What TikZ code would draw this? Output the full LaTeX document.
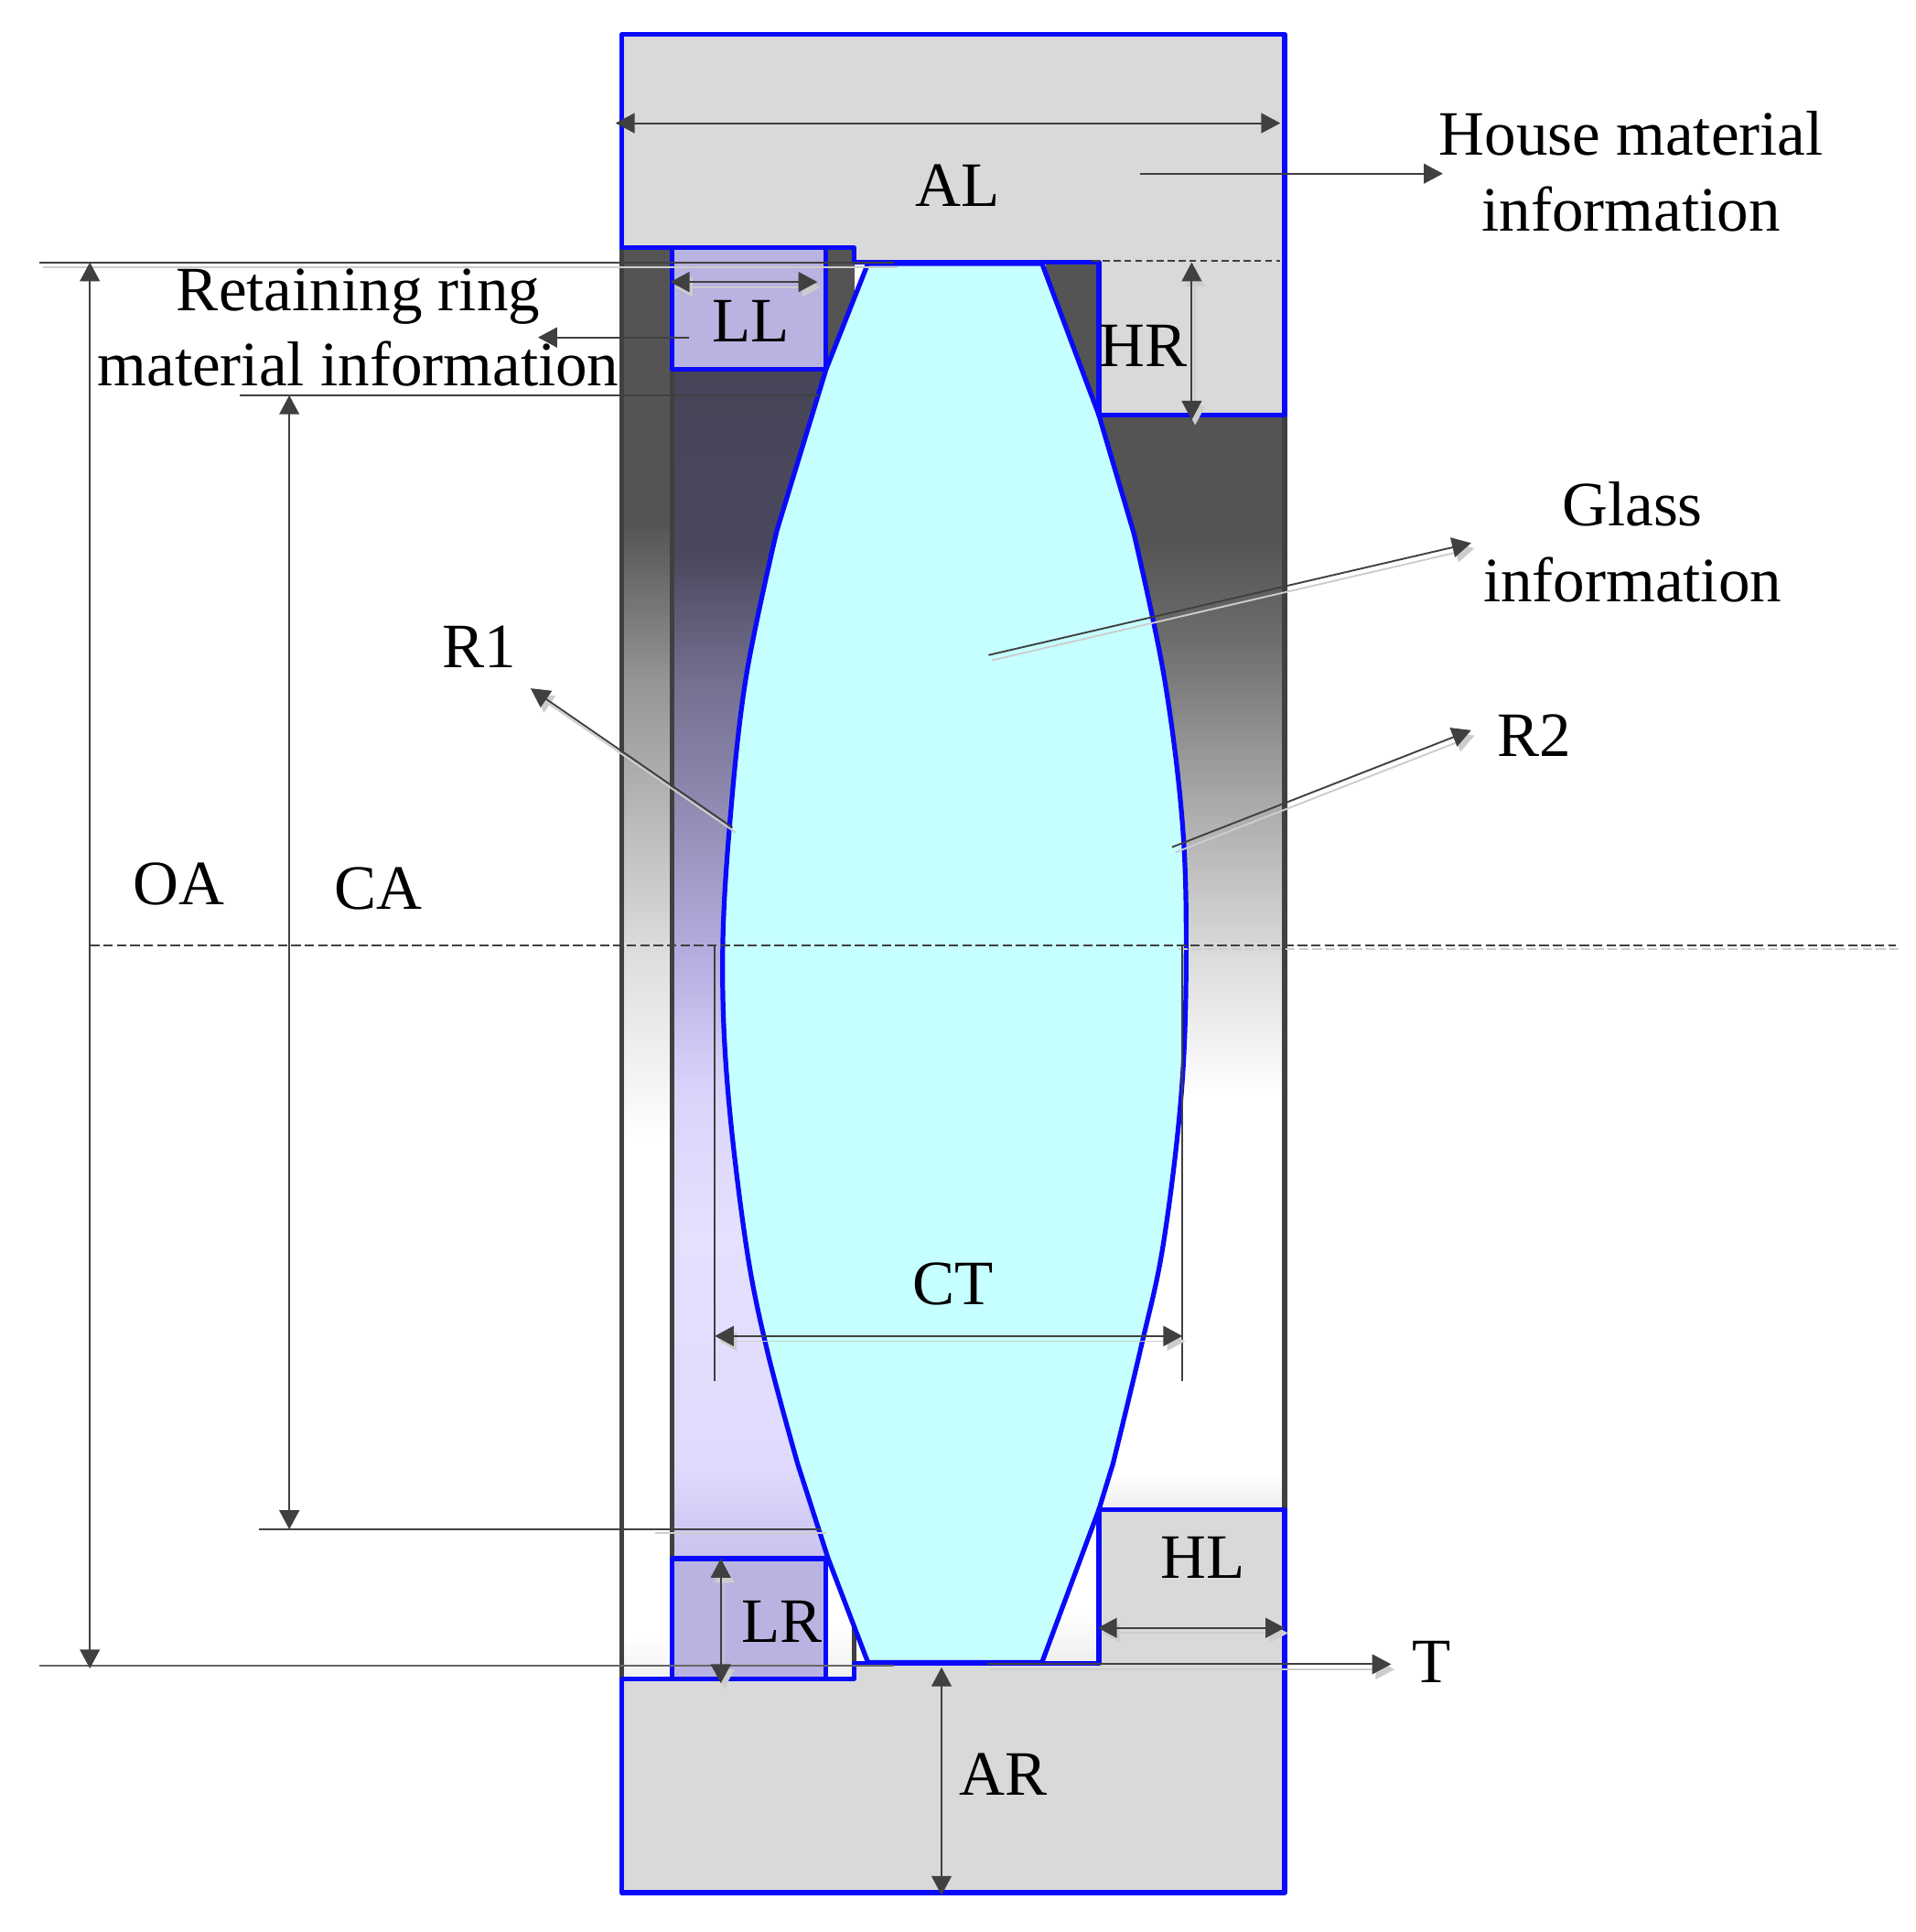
\documentclass[tikz,border=0pt]{standalone}
\usepackage{fontspec}
\setmainfont{Liberation Serif}
\usetikzlibrary{arrows.meta}
\usepackage{xcolor}
\definecolor{lensblue}{RGB}{10,10,250}
\definecolor{glassfill}{RGB}{198,255,255}
\definecolor{housefill}{RGB}{217,217,217}
\definecolor{ringfill}{RGB}{184,179,224}
\definecolor{dimgray}{RGB}{64,64,64}
\definecolor{shadowgray}{RGB}{205,205,205}
\definecolor{pa}{RGB}{71,69,88}
\definecolor{pb}{RGB}{74,72,94}
\definecolor{pc}{RGB}{115,111,143}
\definecolor{pd}{RGB}{142,138,176}
\definecolor{pe}{RGB}{180,174,224}
\definecolor{pf}{RGB}{217,211,251}
\definecolor{pg}{RGB}{229,224,253}
\definecolor{ph}{RGB}{224,219,253}
\definecolor{pi}{RGB}{200,194,238}
\tikzset{
  outline/.style={draw=lensblue,line width=1.1pt,line join=round},
  darkedge/.style={draw=dimgray,line width=1.1pt},
  shadowed/.style={preaction={draw=shadowgray,transform canvas={shift={(0.8pt,-1.2pt)}}}},
  dimline/.style={draw=dimgray,line width=0.4pt,<->,>={Triangle[length=4.4pt,width=4.6pt]}},
  leader/.style={draw=dimgray,line width=0.4pt,->,>={Triangle[length=4.4pt,width=4.6pt]}},
  extline/.style={draw=dimgray,line width=0.4pt},
  faintline/.style={draw=shadowgray,line width=0.4pt},
  lenslabel/.style={inner sep=0pt,align=center,font=\fontsize{14.6}{17.5}\selectfont}
}
\begin{document}
\begin{tikzpicture}[x=0.01cm,y=-0.01cm]
\useasboundingbox (0,0) rectangle (1556,1569);
% gradients behind the lens
\foreach \ya/\yb/\ca/\cb in {201/425/black!67/black!67,425/550/black!67/black!42,550/776/black!42/black!13,776/925/black!13/white,925/1330/white/white,1330/1363/white/black!6}
  \shade[top color=\ca,bottom color=\cb] (505,\ya) rectangle (545.7,\yb+1);
\foreach \ya/\yb/\ca/\cb in {300/450/pa/pb,450/550/pb/pc,550/650/pc/pd,650/776/pd/pe,776/880/pe/pf,880/1000/pf/pg,1000/1190/pg/ph,1190/1265/ph/pi}
  \shade[top color=\ca,bottom color=\cb] (545.7,\ya) rectangle (700,\yb+1);
\foreach \ya/\yb/\ca/\cb in {213/440/black!67/black!67,440/520/black!67/black!57,520/648/black!57/black!34,648/776/black!34/black!14,776/890/black!14/white,890/1195/white/white,1195/1226/white/black!7}
  \shade[top color=\ca,bottom color=\cb] (850,\ya) rectangle (1044,\yb+1);
\fill[black!67] (670,201) rectangle (694,301);
\shade[top color=white,bottom color=black!6] (670,1320) rectangle (694,1363);
\shade[top color=white,bottom color=black!7] (840,1310) rectangle (892,1351);
\fill[white] (670,1265) rectangle (694,1321);
% retaining rings
\fill[ringfill] (545.7,201) rectangle (670.8,299.7);
\fill[ringfill] (545.7,1265.7) rectangle (670.8,1363.5);
\draw[darkedge] (505,201) -- (505,1363);
\draw[darkedge] (545.7,300) -- (545.7,1265);
\draw[darkedge] (1043.5,337) -- (1043.5,1226);
\draw[darkedge] (693.6,1320) -- (693.6,1352);
\draw[outline] (545.7,201) -- (545.7,299.7) -- (670.8,299.7) -- (670.8,201);
\draw[outline] (545.7,1363.5) -- (545.7,1265.7) -- (670.8,1265.7) -- (670.8,1363.5);
% glass
\draw[outline,fill=glassfill] (705,214) -- (671,300) -- (631,431)
  -- plot[smooth,tension=0.6] coordinates {(631,431) (606,550) (592.8,669) (587,776) (591,882.6) (606,1010.6) (623,1096) (648,1189)}
  -- (672.7,1265.7) -- (705,1350) -- (846.4,1350) -- (892.6,1226) -- (904,1189)
  -- plot[smooth,tension=0.6] coordinates {(904,1189) (926.4,1096) (945,1010) (959.7,887) (963.5,776) (960.5,669) (945.7,550) (921,433)}
  -- (892.6,337) -- (846.4,214) -- cycle;
% housing
\draw[outline,fill=housefill] (505,28) -- (1043.5,28) -- (1043.5,337) -- (892.6,337) -- (892.6,213) -- (693.6,213) -- (693.6,201) -- (505,201) -- cycle;
\draw[outline,fill=housefill] (505,1537) -- (1043.5,1537) -- (1043.5,1226) -- (892.6,1226) -- (892.6,1351) -- (693.6,1351) -- (693.6,1363.5) -- (505,1363.5) -- cycle;
% end points of the connectors
\coordinate (oatop) at (73,213);
\coordinate (oabot) at (73,1355);
\coordinate (catop) at (235,321);
\coordinate (cabot) at (235,1242);
\coordinate (topa) at (32,213);
\coordinate (topb) at (726,213);
\coordinate (topc) at (887,212);
\coordinate (topd) at (1040,212);
\coordinate (cala) at (195,321);
\coordinate (calb) at (665,321);
\coordinate (cara) at (210,1242);
\coordinate (carb) at (667,1242);
\coordinate (caraf) at (532,1245);
\coordinate (carbf) at (671,1245);
\coordinate (bota) at (32,1353);
\coordinate (botb) at (726,1353);
\coordinate (tstart) at (802,1351.5);
\coordinate (tend) at (1130,1351.5);
\coordinate (alleft) at (500,100);
\coordinate (alright) at (1040,100);
\coordinate (housea) at (926,141);
\coordinate (houseb) at (1172,141);
\coordinate (ringa) at (560,274);
\coordinate (ringb) at (437,274);
\coordinate (llleft) at (544.6,229);
\coordinate (llright) at (664,229);
\coordinate (hrtop) at (968,213);
\coordinate (hrbot) at (968,341);
\coordinate (rona) at (595,672);
\coordinate (ronb) at (431,559);
\coordinate (rtwa) at (952,688);
\coordinate (rtwb) at (1195,593);
\coordinate (glassa) at (803,532);
\coordinate (glassb) at (1195,441);
\coordinate (axisa) at (73,768);
\coordinate (axisb) at (1540,768);
\coordinate (axisaf) at (957,771);
\coordinate (axisbf) at (1542,771);
\coordinate (ctla) at (580.6,768);
\coordinate (ctlb) at (580.6,1121.5);
\coordinate (ctra) at (960.5,768);
\coordinate (ctrb) at (960.5,1121.5);
\coordinate (ctleft) at (580.6,1085);
\coordinate (ctright) at (960.5,1085);
\coordinate (lrtop) at (585.5,1265.7);
\coordinate (lrbot) at (585.5,1367);
\coordinate (artop) at (764.8,1354);
\coordinate (arbot) at (764.8,1539);
\coordinate (hlleft) at (891.8,1322);
\coordinate (hlright) at (1043.5,1322);
% dimension lines
\draw[extline,shadowed] (topa) -- (topb);
\draw[extline,dashed,dash pattern=on 1.6pt off 0.9pt] (topc) -- (topd);
\draw[extline] (cala) -- (calb);
\draw[faintline] (caraf) -- (carbf);
\draw[extline] (cara) -- (carb);
\draw[extline,draw=black!60] (bota) -- (botb);
\draw[faintline,dashed,dash pattern=on 2.2pt off 0.9pt] (axisaf) -- (axisbf);
\draw[extline,dashed,dash pattern=on 2.2pt off 0.9pt] (axisa) -- (axisb);
\draw[extline] (ctla) -- (ctlb);
\draw[extline] (ctra) -- (ctrb);
\draw[dimline] (oatop) -- (oabot);
\draw[dimline] (catop) -- (cabot);
\draw[dimline] (alleft) -- (alright);
\draw[dimline,line width=0.55pt,shadowed] (llleft) -- (llright);
\draw[dimline,shadowed] (hrtop) -- (hrbot);
\draw[dimline,line width=0.55pt,shadowed] (ctleft) -- (ctright);
\draw[dimline,shadowed] (lrtop) -- (lrbot);
\draw[dimline] (artop) -- (arbot);
\draw[dimline,shadowed] (hlleft) -- (hlright);
\draw[leader] (housea) -- (houseb);
\draw[leader] (ringa) -- (ringb);
\draw[leader,shadowed] (rona) -- (ronb);
\draw[leader,shadowed] (rtwa) -- (rtwb);
\draw[leader,shadowed] (glassa) -- (glassb);
\draw[leader,shadowed] (tstart) -- (tend);
% labels
\node[lenslabel] (al) at (778,151) {AL};
\node[lenslabel] (house) at (1325,139.5) {House material\\information};
\node[lenslabel] (ring) at (291,266) {Retaining ring\\material information};
\node[lenslabel] (ll) at (610,261) {LL};
\node[lenslabel] (hr) at (929,281) {HR};
\node[lenslabel] (glass) at (1326,440.5) {Glass\\information};
\node[lenslabel] (rone) at (389,525) {R1};
\node[lenslabel] (rtwo) at (1246,597) {R2};
\node[lenslabel] (oa) at (145,718) {OA};
\node[lenslabel] (ca) at (307,722) {CA};
\node[lenslabel] (ct) at (774,1043) {CT};
\node[lenslabel] (hl) at (977,1265) {HL};
\node[lenslabel] (lr) at (635,1317) {LR};
\node[lenslabel] (t) at (1163,1350) {T};
\node[lenslabel] (ar) at (815,1441) {AR};
\end{tikzpicture}
\end{document}
